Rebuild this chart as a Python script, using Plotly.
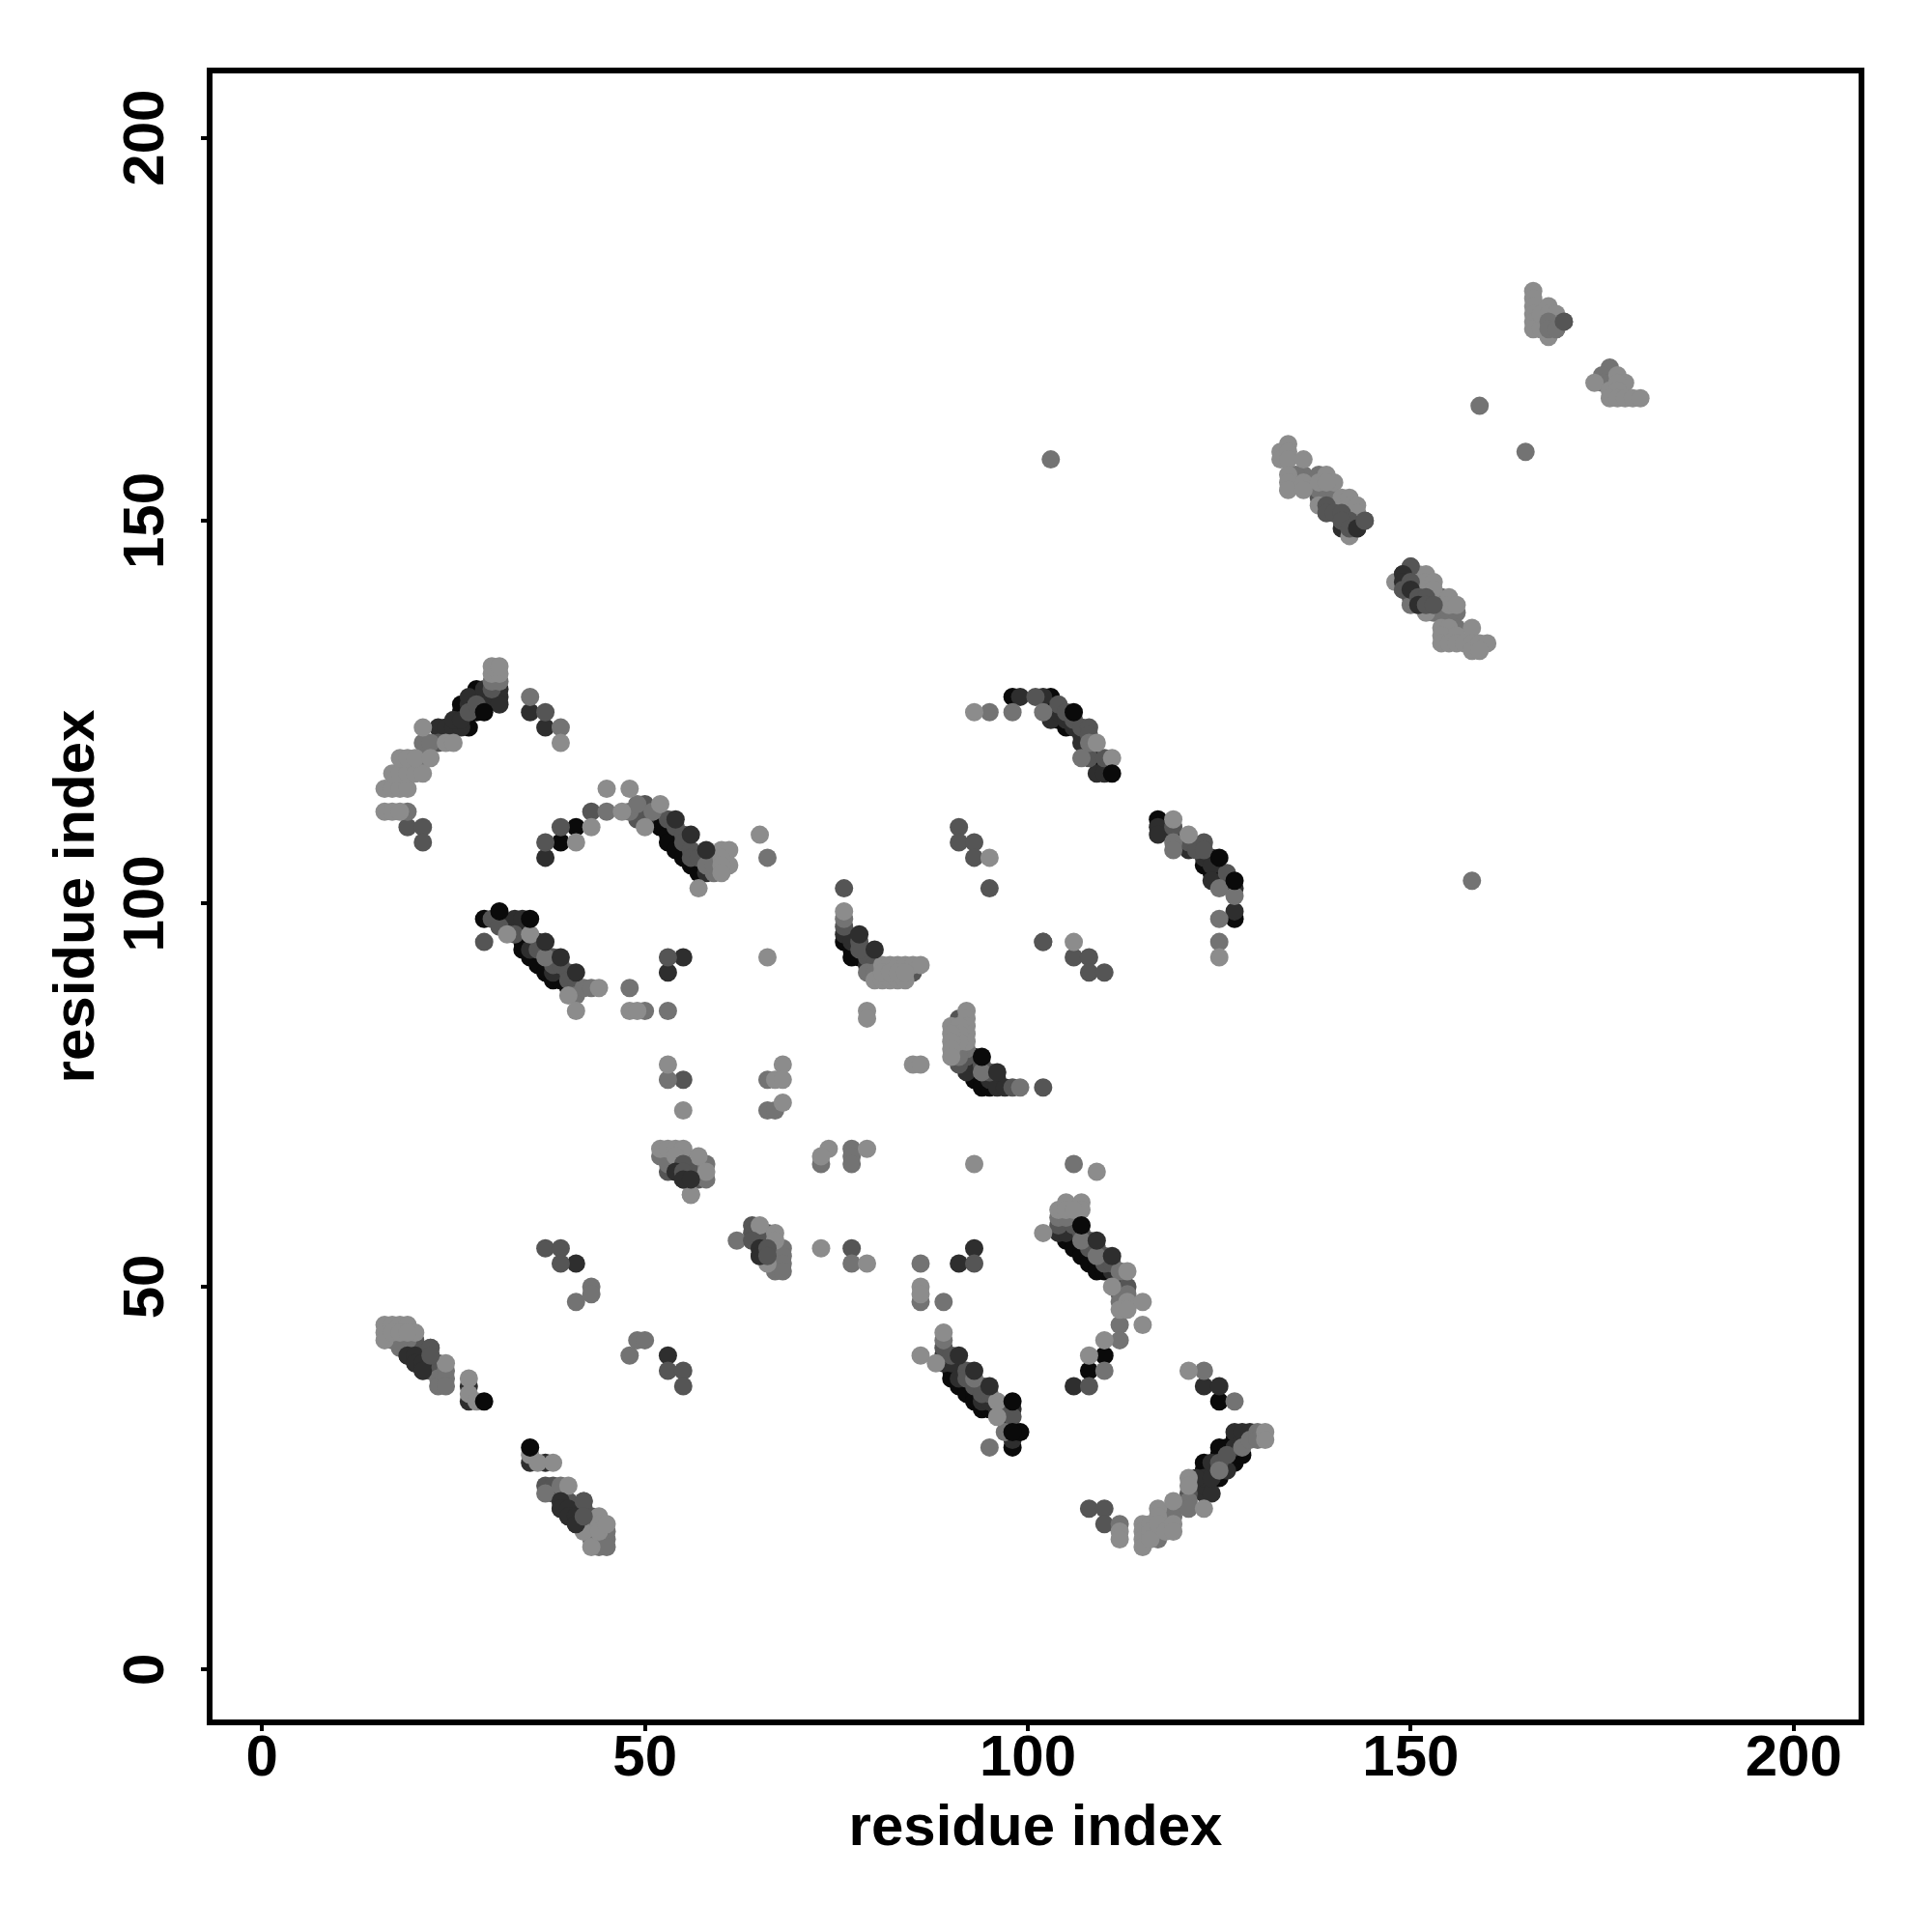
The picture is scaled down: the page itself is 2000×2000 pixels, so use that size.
import plotly.graph_objects as go

# shade index: 0 lightest ... 4 darkest
shade_colors = ["#8c8c8c", "#737373", "#555555", "#2e2e2e", "#0a0a0a"]
tick_vals = [0, 50, 100, 150, 200]
axis_label = "residue index"

arc_a = [(16,115,0),(17,115,0),(18,115,0),(19,115,0),(17,117,0),(18,117,0),(19,117,0),(20,117,0),(21,117,0),
 (18,119,0),(19,119,0),(20,119,0),(21,119,1),(22,119,0),(21,121,1),(22,121,1),(23,121,2),(24,121,0),(25,121,0),
 (21,123,0),(23,123,3),(24,123,3),(25,123,3),(26,123,3),(27,123,4),(25,124,3),(26,124,3),(26,125,4),(27,125,2),(28,125,4),
 (26,126,4),(27,126,3),(28,126,2),(29,126,3),(27,127,3),(28,127,4),(29,127,3),(28,128,4),(29,128,3),(30,128,2),(31,128,3),
 (30,127,3),(31,127,3),(31,126,3),(30,129,1),(31,129,1),(30,130,0),(31,130,0),(30,131,0),(31,131,0),
 (35,127,1),(35,125,3),(37,125,2),(37,123,3),(39,123,1),(39,121,0),
 (16,112,0),(17,112,0),(18,112,0),(19,112,1),(19,110,2),(21,110,2),(21,108,2)]

arc_b = [(45,115,0),(48,115,0),(37,108,2),(37,106,3),(39,110,2),(39,108,4),(41,110,4),(41,108,0),(43,112,2),(43,110,0),
 (45,112,1),(47,112,0),(48,112,1),(49,113,1),(50,113,2),(49,111,2),(50,111,3),(50,110,0),(52,113,0),(51,112,1),
 (52,110,4),(53,109,4),(53,108,4),(54,107,4),(55,106,4),(56,105,4),(57,104,4),(58,104,3),
 (53,111,2),(54,110,2),(55,109,2),(55,108,2),(56,107,2),(56,106,2),(57,106,2),(58,105,1),
 (60,107,0),(61,107,0),(61,105,0),(60,106,0),(60,105,0),(60,104,0),(59,104,1),(59,105,1),(57,102,0),(65,109,0),(66,106,1)]

band_c = [(29,98,4),(30,98,2),(31,98,3),(31,97,2),(29,95,2),(33,98,3),(34,98,3),(32,96,0),(33,96,2),
 (34,96,4),(34,95,4),(34,94,4),(35,94,3),(35,93,4),(36,93,4),(36,92,4),(37,91,4),(38,91,3),(38,90,4),(39,90,4),(40,89,4),
 (36,94,2),(37,93,1),(38,93,2),(38,92,2),(39,92,2),(40,91,2),(40,90,2),(41,89,2),(35,96,0),(36,95,3),
 (40,88,0),(41,88,1),(41,86,0),(42,89,1),(43,89,1),(44,89,0),(48,89,1),(48,86,0),(49,86,0),(50,86,1),(53,86,1),
 (53,93,2),(55,93,3),(53,91,3),(66,93,0)]

band_d = [(76,102,2),(76,99,0),(76,98,1),(76,97,2),(76,96,3),(76,95,4),(77,94,4),(77,93,4),(78,93,4),(79,92,3),(79,93,2),
 (78,95,2),(77,95,3),(78,94,2),(79,91,1),(80,91,1),(80,92,2),(81,92,0),(82,92,0),(83,92,0),(84,92,0),(85,92,0),(86,92,0),
 (85,91,2),(80,90,0),(81,90,0),(82,90,0),(83,90,0),(84,90,0),(81,91,0),(82,91,0),(83,91,0),(84,91,0),
 (79,86,0),(79,85,0),(102,95,2)]

band_e = [(92,86,0),(91,85,2),(90,84,0),(92,85,0),(92,84,0),(92,83,0),(92,82,0),(92,81,1),(91,84,0),(91,83,0),(91,82,0),(91,81,1),(91,80,1),
 (90,83,0),(90,82,0),(90,81,0),(90,80,0),(91,79,2),(92,80,2),(92,79,3),(92,78,3),(93,79,3),(93,78,4),(93,77,4),(94,77,4),(94,76,4),(95,76,4),
 (93,80,3),(94,79,2),(94,78,1),(95,78,2),(95,77,3),(96,77,3),(96,76,3),(97,76,3),(98,76,2),(99,76,1),(102,76,2),(85,79,0),(86,79,0)]

mid_small = [(53,79,0),(53,77,1),(55,77,2),(55,73,0),(68,79,0),(66,77,1),(67,77,0),(68,77,0),(68,74,0),(66,73,1),(67,73,1),
 (74,68,0),(73,67,0),(73,66,1),(77,68,1),(77,67,1),(77,66,1),(79,68,0),(93,66,0),(106,66,1),(109,65,0),(56,62,0)]

band_f = [(52,68,0),(53,68,0),(54,68,0),(55,68,0),(52,67,1),(53,67,1),(54,67,0),(55,67,1),(57,67,0),(53,66,1),(54,66,2),(55,66,2),(56,66,2),
 (53,65,2),(54,65,3),(55,65,2),(56,65,2),(57,65,2),(55,64,3),(56,64,3),(57,64,2),(58,65,0),(58,64,1),(58,66,1),(56,62,0)]

band_g = [(62,56,1),(64,58,2),(65,58,0),(64,57,2),(65,57,2),(64,56,2),(65,56,2),(65,55,3),(65,54,3),(66,57,2),(67,57,0),(66,56,2),(66,55,2),(66,54,2),
 (67,56,0),(67,55,1),(68,55,1),(67,54,1),(68,54,1),(66,53,0),(67,53,1),(68,53,1),(67,52,1),(68,52,1),
 (73,55,0),(77,55,2),(77,53,1),(79,53,0)]

band_h = [(102,57,0),(104,60,0),(105,61,0),(107,61,0),(107,60,0),(105,60,0),(106,60,0),(104,59,1),(105,59,1),(104,58,2),(104,57,3),(105,58,3),(106,58,2),
 (105,57,3),(105,56,4),(106,56,4),(106,55,4),(107,55,4),(107,54,4),(108,54,4),(108,53,4),(109,53,4),(109,52,4),(110,52,4),(111,52,3),
 (107,57,2),(107,56,1),(108,56,2),(108,55,2),(109,55,2),(109,54,1),(110,54,2),(110,53,2),(111,53,2),(112,52,1),(113,52,0),
 (111,50,0),(112,50,3),(113,50,2),(112,49,2),(113,49,1),(112,48,1),(113,48,0),(112,47,0),(113,47,0),(115,48,0),(115,45,0),(112,45,1),(112,43,1),
 (110,43,0),(108,41,0),(110,41,4),(108,39,4),(110,39,1),(106,37,3),(108,37,2)]

near_h = [(91,53,3),(93,55,3),(93,53,2),(86,53,1),(86,50,0),(86,49,0),(86,48,1),(89,48,1)]

band_i = [(86,41,0),(88,40,0),(89,44,0),(89,43,1),(89,42,2),(89,41,3),(89,40,3),(90,41,2),(90,40,3),(90,39,4),(90,38,4),(91,39,4),(91,38,3),(91,37,4),(92,37,4),(92,36,4),
 (93,36,4),(93,35,4),(94,35,3),(94,34,4),(95,34,4),(96,34,3),(92,39,2),(92,38,2),(93,38,1),(93,37,2),(94,37,2),(94,36,2),(95,36,2),(95,35,3),
 (96,35,0),(97,34,2),(97,33,3),(96,33,0),(98,34,3),(98,33,2),(97,31,1),(98,30,3),(98,29,4),(95,29,1)]

arc_j = [(121,39,0),(123,39,1),(123,37,3),(125,37,3),(125,35,4),(127,35,1),(108,21,2),(110,21,2),(110,19,2),(112,19,1),(112,18,0),(112,17,0),
 (115,19,0),(115,18,0),(115,17,0),(115,16,0),(116,19,0),(116,18,0),(116,17,0),(117,21,0),(117,20,0),(117,19,0),(117,18,1),(117,17,1),
 (118,20,1),(118,19,1),(118,18,0),(119,22,0),(119,21,1),(119,20,1),(119,19,0),(119,18,0),
 (121,25,0),(121,24,0),(121,23,2),(121,22,1),(121,21,1),(123,21,0),(123,23,3),(123,24,3),(123,25,3),(122,24,4),(122,25,3),(123,26,4),(123,27,4),
 (124,23,3),(124,25,3),(124,26,4),(124,27,3),(125,25,4),(125,26,1),(125,27,2),(125,28,4),(125,29,4),(126,26,3),(126,27,4),(126,28,2),(126,29,4),
 (127,27,4),(127,28,4),(127,29,3),(127,30,4),(127,31,3),(128,28,4),(128,29,1),(128,30,3),(128,31,3),(129,31,3),(129,30,1),(130,31,1),(130,30,1),(131,31,0),(131,30,0)]

band_k = [(16,45,0),(16,44,0),(16,43,0),(17,45,0),(18,45,0),(19,45,0),(20,44,0),(17,44,0),(18,44,0),(19,44,0),(17,43,1),(18,43,1),(19,43,1),(18,42,1),(19,42,2),
 (19,41,3),(20,43,2),(20,42,2),(20,41,3),(20,40,3),(21,41,2),(21,40,3),(21,39,3),(22,42,2),(22,41,2),(22,40,3),(22,39,2),(23,40,2),(23,39,2),(23,38,1),(23,37,1),
 (24,40,0),(24,39,1),(24,38,1),(24,37,1),(27,38,0),(27,37,3),(27,36,0),(27,35,3),(28,35,0)]

band_l = [(35,28,0),(35,27,3),(36,27,0),(37,27,3),(38,27,0)]

band_m = [(37,24,2),(37,23,1),(38,24,2),(39,24,1),(40,24,0),(38,23,2),(39,23,2),(39,22,3),(39,21,3),(40,22,2),(40,21,3),(40,20,3),(41,21,2),(41,20,3),(41,19,3),
 (42,22,2),(42,21,2),(42,20,2),(42,19,2),(42,18,0),(43,20,2),(43,19,2),(43,18,1),(43,17,1),(43,16,0),(44,20,0),(44,19,0),(44,18,0),(44,17,1),(44,16,1),
 (45,19,0),(45,18,1),(45,17,1),(45,16,1)]

low_small = [(37,55,2),(39,55,2),(39,53,2),(41,53,3),(43,50,1),(43,49,1),(41,48,1),(48,41,1),(49,43,1),(50,43,1),(53,41,3),(53,39,2),(55,39,2),(55,37,2)]

arc_n = [(93,125,0),(95,125,1),(98,125,1),(98,127,4),(99,127,3),(101,127,2),(102,127,3),(103,127,4),(102,125,1),(103,126,4),(103,125,4),(103,124,3),(104,126,2),(104,125,3),(104,124,4),
 (105,125,2),(105,124,3),(105,123,4),(106,124,2),(106,123,3),(107,123,2),(108,123,2),(107,122,3),(107,121,3),(108,122,2),(108,121,1),(109,121,0),(107,119,1),(108,119,2),(109,119,4),(110,119,2),(111,119,0),
 (109,117,3),(110,117,3)]

arc_o = [(117,111,4),(117,110,3),(117,109,3),(119,111,0),(119,110,2),(119,109,3),(119,108,1),(119,107,1),(121,109,0),(121,108,2),(121,107,3),(123,108,2),(122,107,2),
 (123,107,2),(123,106,3),(123,105,4),(124,106,3),(124,105,3),(124,104,4),(124,103,3),(125,104,4),(125,103,4),(125,102,1),(126,104,2),(126,103,3),(127,102,3),(127,101,1),
 (127,99,3),(127,98,4),(125,98,1),(125,95,1),(125,93,0)]

mid_right = [(91,110,2),(91,108,2),(93,108,2),(93,106,2),(95,106,0),(95,102,2),(102,95,2),(106,95,0),(106,93,2),(108,93,2),(108,91,2),(110,91,2)]

cluster_p = [(166,180,0),(166,179,0),(166,178,0),(166,177,0),(166,176,0),(166,175,0),(167,176,1),(167,175,0),(167,177,0),(168,178,0),(168,177,0),(168,176,1),(168,175,1),(168,174,0),
 (169,177,0),(169,176,1),(169,175,1),(170,176,2),
 (176,170,1),(174,168,0),(175,169,1),(175,168,1),(176,168,1),(176,167,0),(177,169,0),(178,168,0),(177,168,0),(177,167,0),(176,166,0),(177,166,0),(178,166,0),(179,166,0),(180,166,0),
 (159,165,1),(165,159,1),(103,158,1),(158,103,1)]

band_r = [(134,160,0),(133,159,0),(133,158,0),(134,159,0),(134,158,0),(136,158,0),(134,156,0),(134,155,0),(134,154,0),(136,156,1),(136,155,0),(136,154,0),(135,156,1),
 (138,156,1),(139,156,0),(140,155,0),(138,155,0),(139,155,0),(138,154,1),(138,153,2),(138,152,0),(139,153,1),(139,152,2),(139,151,2),(140,153,1),(140,152,1),(140,151,2),
 (141,153,0),(141,152,1),(141,151,2),(141,150,2),(141,149,3),(142,153,0),(142,152,0),(142,151,1),(142,150,2),(142,149,2),(142,148,0),(143,152,0),(143,151,0),(143,150,2),(143,149,3),(144,150,2)]

band_s = [(148,142,0),(150,144,2),(149,143,3),(149,142,3),(149,141,2),(150,142,2),(150,141,3),(151,141,2),(150,140,2),(151,140,2),(152,140,2),(151,139,3),(152,139,2),(153,139,2),(150,139,1),
 (151,143,0),(152,143,0),(151,142,1),(152,142,0),(153,142,0),(153,141,0),(152,138,0),(153,138,1),(154,138,1),(155,138,1),(154,140,2),(154,139,1),(155,140,0),(155,139,0),(156,139,0),(156,138,1),
 (154,136,0),(155,136,0),(156,136,1),(158,136,0),(154,135,0),(156,135,0),(154,134,0),(155,134,0),(156,134,0),(157,134,0),(158,134,0),(158,133,0),(159,134,0),(160,134,0),(159,133,0)]

# marks drawn last, over the lighter ones
top_points = [(54,111,3),(56,109,3),(58,107,3),(31,99,4),(35,98,4),(37,95,3),(39,93,3),(41,91,3),(78,96,3),(80,94,3),
 (94,80,4),(96,78,3),(107,58,4),(109,56,3),(111,54,3),(91,41,3),(93,39,3),(95,37,3),(98,35,4),(99,31,4),(98,31,4),
 (29,125,4),(29,35,4),(35,29,4),(106,125,4),(125,106,4),(127,103,4),(111,117,4),
 (139,152,2),(139,151,2),(140,151,2),(141,151,2),(142,150,2),(141,150,2),(142,149,2),(143,149,3),(144,150,2),
 (150,144,2),(149,143,3),(149,142,3),(149,141,2),(150,142,2),(150,141,3),(151,140,2),(152,140,2),(151,139,3),(152,139,2),(153,139,2),
 (19,41,3),(20,41,3),(20,40,3),(21,40,3),(21,39,3),(22,42,2),(22,41,2),
 (39,22,3),(39,21,3),(40,21,3),(40,20,3),(41,20,3),(41,19,3),(42,22,2),(42,20,2),
 (55,66,2),(54,65,3),(55,65,2),(55,64,3),(56,64,3),
 (64,56,2),(65,55,3),(65,54,3),(66,55,2),(66,54,2),
 (168,176,1),(168,175,1),(169,175,1),(170,176,2)]

all_clusters = [arc_a, arc_b, band_c, band_d, band_e, mid_small, band_f, band_g, band_h, near_h, band_i, arc_j,
                band_k, band_l, band_m, low_small, arc_n, arc_o, mid_right, cluster_p, band_r, band_s]
points = sorted([p for c in all_clusters for p in c], key=lambda p: -p[2]) + top_points

fig = go.Figure(go.Scatter(
    x=[p[0] for p in points], y=[p[1] for p in points], mode="markers",
    marker=dict(size=19, color=[shade_colors[p[2]] for p in points], line=dict(width=0)),
    showlegend=False, cliponaxis=True))

font = dict(family="Liberation Sans", size=60, color="black", weight="bold")
common = dict(tickvals=tick_vals, ticks="outside", ticklen=6, tickwidth=4, tickcolor="black",
              showline=True, linecolor="black", linewidth=6, mirror=True, showgrid=False, zeroline=False,
              tickfont=font)
fig.update_xaxes(range=[-6.47, 208.49], ticklabelstandoff=-26, title=dict(text=axis_label, font=font, standoff=20), **common)
fig.update_yaxes(range=[-6.52, 208.4], tickangle=-90, ticklabelstandoff=15, ticklabelshift=9,
                 title=dict(text=axis_label, font=font, standoff=0), **common)
fig.update_layout(width=1984, height=1984, margin=dict(l=212, r=68, t=68, b=212, autoexpand=False),
                  plot_bgcolor="white", paper_bgcolor="white", font=font)
fig.write_html("out.html")
